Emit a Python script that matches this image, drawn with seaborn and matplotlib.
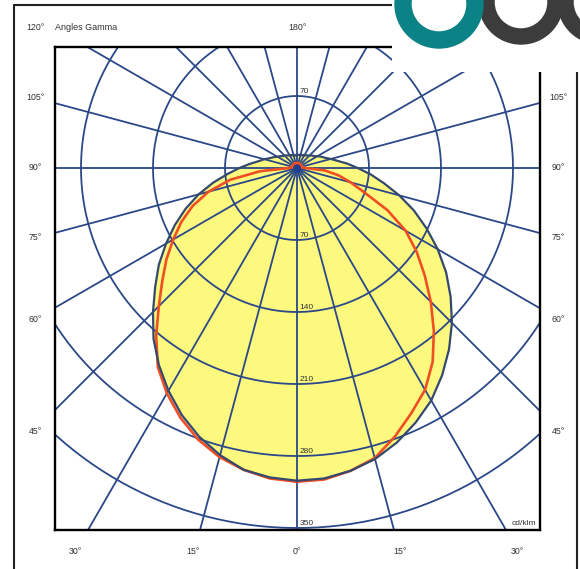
# Photometric polar diagram (cd/klm) - C0/C180 plane filled, C90/C270 plane in red
import numpy as np
import pandas as pd
import matplotlib
matplotlib.use('Agg')
import matplotlib.pyplot as plt
import seaborn as sns
from matplotlib.patches import Wedge
from matplotlib.lines import Line2D

# gamma angles (deg from nadir) and luminous intensity values
gamma = [0, 5, 10, 15, 20, 25, 30, 35, 40, 45, 50, 55, 60, 65, 70, 75, 80, 85, 90,
         95, 100, 105, 110, 115, 120, 125, 130, 135, 140, 145, 150, 155, 160, 165, 170, 175, 180]
c0 = [304, 303, 299, 293, 284, 273, 261, 246, 230, 213, 195, 177, 158, 139, 121, 103, 86, 72, 59,
      49, 40, 34, 29, 26, 23, 20, 19, 17, 16, 15, 14, 14, 13, 13, 13, 13, 12]
c180 = [304, 302, 298, 289, 278, 265, 250, 234, 217, 198, 180, 164, 147, 131, 115, 99, 83, 68, 56,
        46, 38, 33, 28, 25, 22, 20, 18, 17, 16, 15, 14, 14, 13, 13, 13, 12, 12]
c90 = [305, 304, 299, 292, 278, 263, 249, 230, 207, 184, 162, 142, 122, 97, 70, 54, 41, 27, 8,
       5, 5, 5, 5, 5, 5, 5, 5, 5, 5, 5, 5, 5, 5, 5, 5, 5, 5]
c270 = [305, 303, 298, 291, 281, 268, 253, 236, 213, 190, 171, 155, 139, 124, 108, 89, 66, 36, 8,
        5, 5, 5, 5, 5, 5, 5, 5, 5, 5, 5, 5, 5, 5, 5, 5, 5, 5]

rings = [70, 140, 210, 280, 350]
spokes = list(range(0, 360, 15))

left_labels = ['105°', '90°', '75°', '60°', '45°']
left_label_y = [98, 168, 237, 320, 432]
bottom_labels = ['30°', '15°', '0°', '15°', '30°']
bottom_label_x = [75, 193, 297, 400, 517]


def curve(right, left):
    g = np.radians(gamma)
    r1 = np.array(right)
    r2 = np.array(left)
    x = np.concatenate([r1 * np.sin(g), -(r2 * np.sin(g))[::-1]])
    y = np.concatenate([-r1 * np.cos(g), -(r2 * np.cos(g))[::-1]])
    return pd.DataFrame({'x': x, 'y': y})


sns.set_style('white')
plt.rcParams['font.family'] = ['Liberation Sans', 'DejaVu Sans']

W, H = 580, 569
fx = lambda p: p / W
fy = lambda p: 1 - p / H

fig = plt.figure(figsize=(5.8, 5.69), dpi=100)
ax = fig.add_axes([fx(55), fy(530), (540 - 55) / W, (530 - 47) / H])

grid_col = '#2b4888'
yellow = curve(c0, c180)
red = curve(c90, c270)

ax.fill(yellow['x'], yellow['y'], color='#fcf97e', zorder=1)

t = np.linspace(0, 2 * np.pi, 400)
for r in rings:
    ax.plot(r * np.cos(t), r * np.sin(t), color=grid_col, lw=1.3, zorder=2)
for a in spokes:
    ar = np.radians(a)
    ax.plot([0, 700 * np.sin(ar)], [0, -700 * np.cos(ar)], color=grid_col, lw=1.3, zorder=2)

sns.lineplot(data=red, x='x', y='y', sort=False, estimator=None, color='#f04e23',
             lw=1.9, ax=ax, zorder=3)
sns.lineplot(data=yellow, x='x', y='y', sort=False, estimator=None, color='#34496e',
             lw=1.6, ax=ax, zorder=4)
ax.plot([0], [0], 'o', color='#1f3f8f', ms=4, zorder=5)

for r in rings:
    ax.text(2.5, -r + 0.5, str(r), fontsize=6, color='#333333', ha='left', va='bottom', zorder=6)
ax.text(2.5, 70.5, '70', fontsize=6, color='#333333', ha='left', va='bottom', zorder=6)
ax.text(233, -349.5, 'cd/klm', fontsize=6, color='#333333', ha='right', va='bottom', zorder=6)

s = 72 / 70
ax.set_xlim((55 - 297) / s, (540 - 297) / s)
ax.set_ylim((168 - 530) / s, (168 - 47) / s)
ax.set_xticks([])
ax.set_yticks([])
ax.set_xlabel('')
ax.set_ylabel('')
for sp in ax.spines.values():
    sp.set_visible(True)
    sp.set_color('black')
    sp.set_linewidth(1.7)

# labels around the frame
lab = dict(fontsize=6.3, color='#333333', ha='center', va='center')
fig.text(fx(35), fy(27), '120°', **lab)
fig.text(fx(55), fy(27), 'Angles Gamma', fontsize=6.5, color='#333333', ha='left', va='center')
fig.text(fx(297), fy(27), '180°', **lab)
for txt, yy in zip(left_labels, left_label_y):
    fig.text(fx(35), fy(yy), txt, **lab)
    fig.text(fx(558), fy(yy), txt, **lab)
for txt, xx in zip(bottom_labels, bottom_label_x):
    fig.text(fx(xx), fy(551), txt, **lab)

# page border
bc = '#222222'
fig.add_artist(Line2D([fx(14), fx(14)], [fy(5), fy(569)], color=bc, lw=1.5))
fig.add_artist(Line2D([fx(14), fx(392)], [fy(5), fy(5)], color=bc, lw=1.5))
fig.add_artist(Line2D([fx(577), fx(577)], [fy(72), fy(569)], color=bc, lw=1.5))

# logo block in the top-right corner
lax = fig.add_axes([fx(392), fy(72), (W - 392) / W, 72 / H], zorder=5)
lax.set_xlim(392, W)
lax.set_ylim(72, 0)
lax.set_facecolor('white')
lax.set_xticks([])
lax.set_yticks([])
for sp in lax.spines.values():
    sp.set_visible(False)
lax.add_patch(Wedge((600, 2), 42, 0, 360, width=15, color='#3c3c3c'))
lax.add_patch(Wedge((521, 2), 42, 0, 360, width=15, color='#3c3c3c'))
lax.add_patch(Wedge((439, 4), 44, 0, 360, width=16, color='#0a8286'))

fig.savefig('out.png', dpi=100)
